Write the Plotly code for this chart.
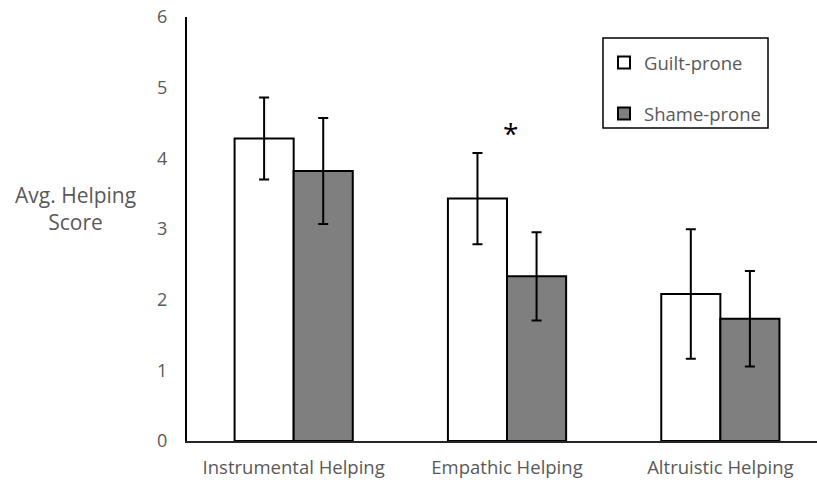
import plotly.graph_objects as go

categories = ["Instrumental Helping", "Empathic Helping", "Altruistic Helping"]
guilt_mean = [4.28, 3.43, 2.08]
guilt_err = [0.58, 0.645, 0.915]
shame_mean = [3.82, 2.33, 1.73]
shame_err = [0.75, 0.625, 0.675]
y_ticks = [0, 1, 2, 3, 4, 5, 6]

FONT = "Open Sans"
GRAY = "#595959"

fig = go.Figure()
fig.add_trace(go.Bar(
    x=categories, y=guilt_mean, name="Guilt-prone", legendgroup="g",
    marker=dict(color="white", line=dict(color="black", width=2)),
    error_y=dict(type="data", array=guilt_err, color="black", thickness=2, width=5),
))
fig.add_trace(go.Bar(
    x=categories, y=shame_mean, name="Shame-prone", legendgroup="s",
    marker=dict(color="#7f7f7f", line=dict(color="black", width=2)),
    error_y=dict(type="data", array=shame_err, color="black", thickness=2, width=5),
))

fig.add_annotation(x="Empathic Helping", y=4.36, text="*", showarrow=False,
                   xshift=3, font=dict(family=FONT, size=28, color="black"))
fig.add_annotation(xref="paper", yref="paper", x=(75.5 - 187) / 630, y=0.548,
                   text="Avg. Helping<br>Score", showarrow=False, align="center",
                   xanchor="center", yanchor="middle",
                   font=dict(family=FONT, size=21, color=GRAY))
# legend box
fig.add_shape(type="rect", xref="paper", yref="paper",
              x0=(603 - 187) / 630, x1=(768 - 187) / 630,
              y0=(441 - 128) / 424, y1=(441 - 38) / 424,
              line=dict(color="black", width=1.5), fillcolor="rgba(0,0,0,0)")

fig.update_layout(
    width=817, height=485,
    margin=dict(l=187, r=0, t=17, b=44),
    plot_bgcolor="white", paper_bgcolor="white",
    barmode="group", bargap=0.446, bargroupgap=0,
    font=dict(family=FONT, size=16, color=GRAY),
    showlegend=True,
    legend=dict(x=(604 - 187) / 630, y=(441 - 44) / 424, xanchor="left", yanchor="top",
                bgcolor="rgba(0,0,0,0)", borderwidth=0,
                traceorder="grouped", tracegroupgap=24,
                font=dict(family=FONT, size=18.5, color=GRAY)),
    xaxis=dict(range=[-0.5, 2.453], showline=True, linecolor="#262626", linewidth=2,
               ticks="", showgrid=False, zeroline=False, ticklabelstandoff=9,
               tickfont=dict(family=FONT, size=18.5, color=GRAY)),
    yaxis=dict(range=[0, 6], tickvals=y_ticks, showline=True, linecolor="black", linewidth=2,
               ticks="", showgrid=False, zeroline=False, ticklabelstandoff=14,
               tickfont=dict(family=FONT, size=18, color=GRAY)),
)

fig.write_html("out.html", config={"displayModeBar": False},
               post_script="document.body.style.margin='0';")
